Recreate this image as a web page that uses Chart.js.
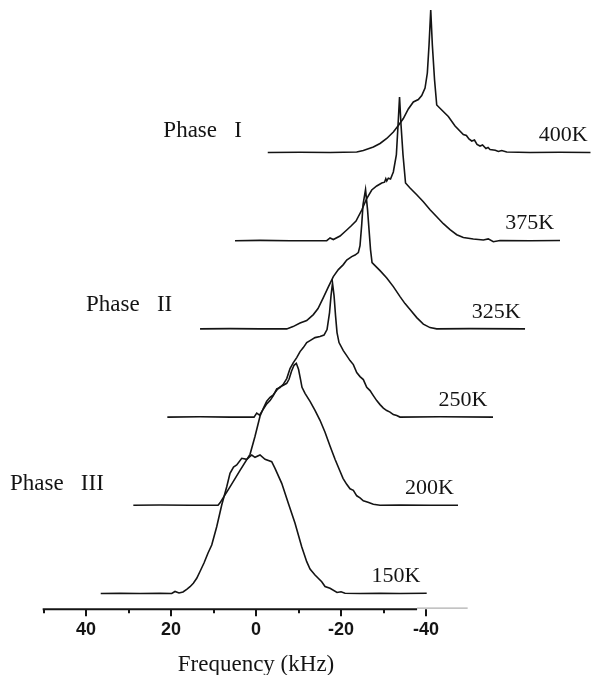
<!DOCTYPE html>
<html>
<head>
<meta charset="utf-8">
<title>Variable-temperature spectra</title>
<script src="https://cdn.jsdelivr.net/npm/chart.js@4.4.1/dist/chart.umd.min.js"></script>
<style>
  html, body { margin: 0; padding: 0; background: #ffffff; }
  #wrap { width: 591px; height: 675px; }
</style>
</head>
<body>
<div id="wrap"><canvas id="chart" width="591" height="675"></canvas></div>
<script>
// Temperatures of the stacked spectra, bottom to top
const temperatures = ['150K', '200K', '250K', '325K', '375K', '400K'];

// Each spectrum: [frequency (kHz), intensity (a.u.)]
const spec150 = [[36.54,0],[32.0,0.3],[27.29,0],[22.59,0.3],[19.84,0],[19.06,2],[18.12,0.5],[17.18,1.5],[16.31,4.2],[15.53,6.8],[14.75,10.2],[13.95,15.2],[13.18,22],[12.24,30.5],[11.29,40.5],[10.42,48.5],[9.25,66.8],[8.07,88.5],[6.89,106.8],[6.12,120.2],[5.29,126.5],[4.54,128.5],[3.36,135.2],[2.19,134.2],[1.01,138.5],[0.24,136.2],[-0.94,138.5],[-2.12,134.2],[-3.69,131.8],[-4.47,125.2],[-6.05,110.2],[-7.6,90.2],[-9.18,70.2],[-10.75,46.8],[-11.93,31.8],[-12.71,24.5],[-13.88,18.5],[-15.46,11.8],[-16.24,7],[-17.41,5.2],[-19.06,1],[-20.0,1.7],[-20.94,0.2],[-24.47,0],[-29.18,0.3],[-33.88,0],[-40.16,0.2]];

const spec200 = [[36.73,0],[30.45,0.3],[23.39,0],[16.8,0],[16.33,2.5],[13.98,18.5],[11.62,35],[9.27,51],[8.09,69],[6.92,89],[6.14,97],[5.34,104],[4.56,108],[3.79,110.5],[2.99,115],[2.21,118.5],[1.44,120],[0.64,122],[0.09,126],[-0.49,134],[-1.08,140],[-1.62,142],[-2.14,136],[-2.61,126],[-2.96,118],[-3.67,112],[-4.85,104],[-6.02,95],[-7.2,85],[-8.38,73],[-9.55,59.3],[-10.73,46],[-11.91,34],[-12.61,27],[-13.48,21],[-14.26,16.5],[-15.04,15],[-15.84,9.5],[-16.61,7.5],[-17.39,4.5],[-18.49,3],[-19.74,1],[-21.32,0],[-26.02,0.3],[-33.08,0],[-39.67,0]];

const spec250 = [[36.59,0],[28.89,0.3],[21.84,0],[16.19,0],[15.55,4],[14.89,2],[14.07,7.5],[13.2,13.2],[12.42,16.5],[11.65,21.5],[10.85,28.2],[10.07,29.5],[9.36,32.5],[8.49,38.5],[7.72,48.5],[6.94,54.5],[6.14,59.5],[5.36,65.5],[4.59,69.5],[3.79,74.5],[3.01,76.5],[1.84,79.5],[0.66,80.5],[-0.28,82],[-0.99,87.5],[-1.58,104.5],[-1.93,121.5],[-2.28,134],[-2.64,121.5],[-2.99,101.5],[-3.34,84.5],[-3.81,74.5],[-4.82,66.5],[-5.62,61.5],[-6.4,56.5],[-7.18,52.5],[-7.98,44.5],[-8.75,40.5],[-9.53,37.5],[-10.33,29.8],[-11.11,26.5],[-11.88,21.5],[-12.68,16.5],[-13.46,12.5],[-14.24,9],[-15.04,6.5],[-15.81,5],[-16.59,2.5],[-17.39,1.5],[-18.16,0],[-27.58,0.3],[-40.05,0]];

const spec325 = [[36.75,0],[29.69,0.3],[22.64,0],[16.35,0],[14.87,2.3],[13.22,5.8],[11.65,8.3],[10.09,14.3],[8.99,20.3],[7.74,31.3],[6.64,41.3],[5.39,52.3],[4.21,59.3],[3.04,64.3],[2.24,68.8],[1.06,72.3],[0.28,73.8],[-0.49,76.3],[-0.89,83.3],[-1.29,104.3],[-1.6,124.3],[-2.19,139.3],[-2.66,119.3],[-3.01,99.3],[-3.36,79.3],[-3.72,66.3],[-4.66,62.3],[-5.6,58.3],[-7.18,51],[-8.73,42.3],[-10.31,32.3],[-11.48,25.3],[-12.66,19.3],[-14.24,11.3],[-15.79,4.8],[-17.36,1.3],[-18.94,0],[-26.78,0.3],[-39.72,0]];

const spec375 = [[36.38,0],[30.49,0.3],[23.44,0],[14.8,0],[14.02,2.7],[13.25,1.2],[11.67,4.7],[10.09,10.7],[9.08,14.7],[7.91,19.7],[6.56,30.7],[5.39,42.2],[4.21,50.7],[3.04,54.7],[1.86,57.7],[1.2,58.5],[0.9,62],[0.68,59.7],[0.3,62.5],[-0.21,61.7],[-0.87,68.7],[-1.58,85.7],[-1.98,115.7],[-2.33,143.7],[-2.68,115.7],[-3.15,85.7],[-3.74,57.7],[-4.8,52.7],[-6.38,46],[-7.93,39],[-9.51,31],[-11.08,24],[-12.64,17],[-14.21,11],[-15.79,6],[-17.34,3.2],[-19.69,1.7],[-22.05,0.7],[-23.2,1.8],[-24.4,-1],[-25.98,0.2],[-33.04,0],[-40.09,0.2]];

const spec400 = [[36.54,0],[28.94,0.3],[21.88,0],[15.6,0.5],[14.05,2],[11.69,5.5],[10.12,9],[8.54,14],[6.99,20.5],[5.81,27],[4.64,34],[3.46,43.5],[2.28,50.5],[1.11,53],[0.31,57],[-0.47,64.5],[-1.01,79.5],[-1.41,107.5],[-1.81,142.5],[-2.19,107.5],[-2.71,72.5],[-3.22,47.5],[-4.4,42.5],[-5.95,36],[-7.53,26.5],[-9.48,18],[-10.2,17],[-10.8,13.5],[-11.46,11.5],[-12.1,12.5],[-12.7,8],[-13.41,6.5],[-14.0,7.5],[-14.8,4],[-15.3,5],[-15.76,3],[-17.0,2.2],[-17.72,1],[-18.5,2],[-19.69,0.5],[-25.18,0],[-32.24,0.3],[-39.4,0]];

const spectra = [spec150, spec200, spec250, spec325, spec375, spec400];

// Axis ticks (kHz)
const majorTicks = [40, 20, 0, -20, -40];
const minorTicks = [50, 30, 10, -10, -30];

// Phase annotations
const phaseNames = ['Phase   I', 'Phase   II', 'Phase   III'];

// Stacking of the waterfall: each spectrum moves right and up
const shiftKHz = 7.86;
const baseline0 = 15.5;
const stepY = 88.2;

const ink = '#141414';

const datasets = spectra.map((spec, i) => ({
  label: temperatures[i],
  data: spec.map(([f, h]) => ({ x: f - i * shiftKHz, y: baseline0 + i * stepY + h })),
  borderColor: ink,
  borderWidth: 1.6,
  pointRadius: 0,
  tension: 0,
  fill: false
}));

// Axis line, tick marks, title and text annotations
const decorations = {
  id: 'decorations',
  afterDraw(chart) {
    const { ctx, chartArea } = chart;
    const x = chart.scales.x, y = chart.scales.y;
    const axisY = chartArea.bottom + 0.3;
    ctx.save();
    ctx.strokeStyle = ink;
    ctx.lineWidth = 2;
    ctx.lineCap = 'butt';
    ctx.beginPath();
    ctx.moveTo(x.getPixelForValue(50.2), axisY);
    ctx.lineTo(x.getPixelForValue(-37.9), axisY);
    ctx.stroke();
    ctx.strokeStyle = '#9a9a9a';
    ctx.lineWidth = 1;
    ctx.beginPath();
    ctx.moveTo(x.getPixelForValue(-37.9), axisY - 1.2);
    ctx.lineTo(x.getPixelForValue(-49.8), axisY - 1.2);
    ctx.stroke();

    ctx.strokeStyle = ink;
    ctx.lineWidth = 2;
    majorTicks.forEach(v => {
      const px = Math.round(x.getPixelForValue(v));
      ctx.beginPath(); ctx.moveTo(px, axisY); ctx.lineTo(px, axisY + 7); ctx.stroke();
    });
    minorTicks.forEach(v => {
      const px = Math.round(x.getPixelForValue(v));
      ctx.beginPath(); ctx.moveTo(px, axisY); ctx.lineTo(px, axisY + 4); ctx.stroke();
    });

    ctx.fillStyle = ink;
    ctx.font = '23px "Liberation Serif", "Times New Roman", serif';
    ctx.textAlign = 'center';
    ctx.textBaseline = 'alphabetic';
    ctx.fillText('Frequency (kHz)', x.getPixelForValue(0), chartArea.bottom + 61.5);

    ctx.font = '22px "Liberation Serif", "Times New Roman", serif';
    ctx.textAlign = 'right';
    temperatures.forEach((t, i) => {
      ctx.fillText(t, x.getPixelForValue(-38.7 - i * shiftKHz),
                   y.getPixelForValue(baseline0 + i * stepY + 11.3));
    });

    ctx.font = '23px "Liberation Serif", "Times New Roman", serif';
    ctx.textAlign = 'left';
    const phaseAt = [[21.8, 472.3], [40.0, 298.3], [57.9, 119.0]];
    phaseNames.forEach((p, k) => {
      ctx.fillText(p, x.getPixelForValue(phaseAt[k][0]), y.getPixelForValue(phaseAt[k][1]));
    });
    ctx.restore();
  }
};

new Chart(document.getElementById('chart'), {
  type: 'line',
  data: { datasets },
  options: {
    responsive: false,
    devicePixelRatio: 1,
    animation: false,
    parsing: true,
    layout: { padding: 0 },
    plugins: { legend: { display: false }, tooltip: { enabled: false } },
    scales: {
      x: {
        type: 'linear',
        reverse: true,
        min: -78.82,
        max: 60.24,
        afterBuildTicks: scale => { scale.ticks = majorTicks.map(v => ({ value: v })); },
        afterFit: scale => { scale.height = 66; },
        grid: { display: false, drawTicks: false },
        border: { display: false },
        ticks: {
          autoSkip: false,
          maxRotation: 0,
          padding: 10,
          color: ink,
          font: { family: '"Liberation Sans", Arial, sans-serif', size: 18, weight: 'bold' },
          callback: v => String(v)
        }
      },
      y: {
        type: 'linear',
        display: false,
        min: 0,
        max: 609
      }
    }
  },
  plugins: [decorations]
});
</script>
</body>
</html>
